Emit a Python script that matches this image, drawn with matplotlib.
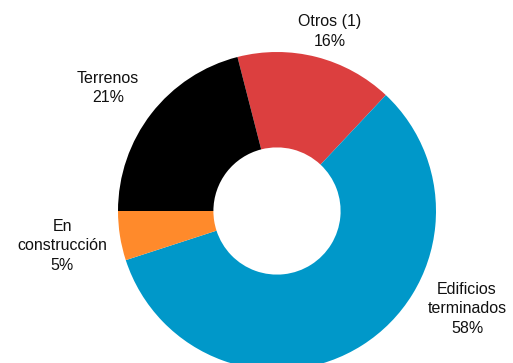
import matplotlib
matplotlib.use("Agg")
import matplotlib.pyplot as plt

# shares of the portfolio, in clockwise order starting at the red slice
labels = ["Otros (1)", "Edificios\nterminados", "En\nconstrucción", "Terrenos"]
shares = [16, 58, 5, 21]
colors = ["#DC3F3F", "#0098C9", "#FF8A2B", "#000000"]

plt.rcParams["font.family"] = ["Liberation Sans", "DejaVu Sans"]

fig = plt.figure(figsize=(5.13, 3.63), dpi=100)
ax = fig.add_axes([0, 0, 1, 1])

# red slice starts just left of twelve o'clock
ax.pie(shares, colors=colors, startangle=104.4, counterclock=False,
       radius=1, wedgeprops=dict(width=0.6, linewidth=0))

# label positions next to each slice
label_pos = [(0.333, 1.13), (1.195, -0.616), (-1.352, -0.22), (-1.063, 0.774)]
for lab, val, (x, y) in zip(labels, shares, label_pos):
    ax.text(x, y, f"{lab}\n{val}%", ha="center", va="center",
            fontsize=11.5, linespacing=1.4, color="#111111")

ax.set_xlim(-277 / 159, (513 - 277) / 159)
ax.set_ylim(-(363 - 211) / 159, 211 / 159)
ax.set_aspect("equal")
ax.axis("off")

fig.savefig("out.png", dpi=100)
